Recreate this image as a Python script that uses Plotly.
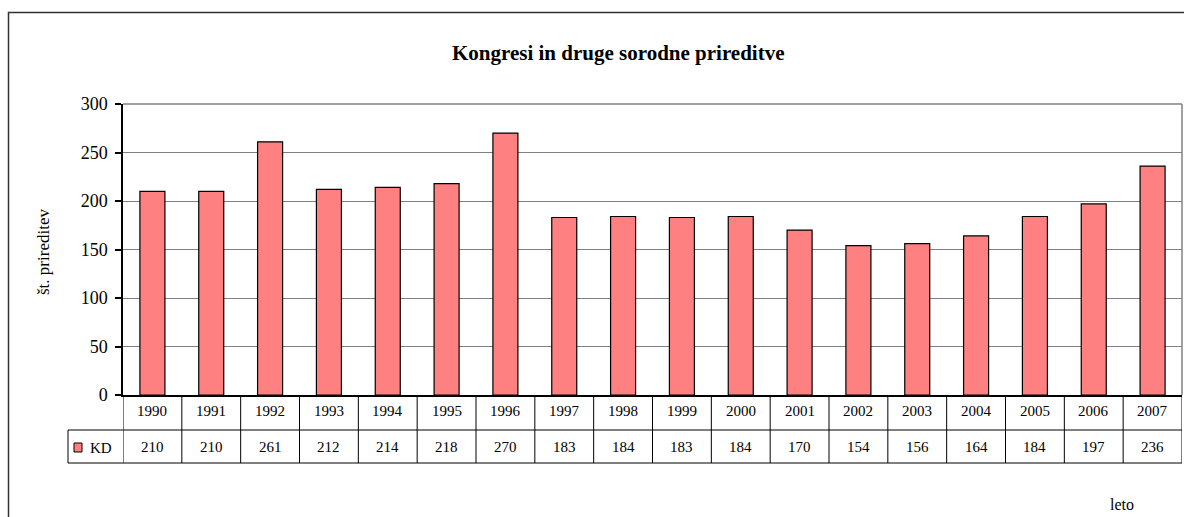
import plotly.graph_objects as go

years = ["1990", "1991", "1992", "1993", "1994", "1995", "1996", "1997", "1998",
         "1999", "2000", "2001", "2002", "2003", "2004", "2005", "2006", "2007"]
kd = [210, 210, 261, 212, 214, 218, 270, 183, 184, 183, 184, 170, 154, 156, 164, 184, 197, 236]
series_name = "KD"
title = "Kongresi in druge sorodne prireditve"
y_title = "št. prireditev"
x_title = "leto"

W, H = 1184, 517
PL, PR, PT, PB = 123, 1182, 104, 395  # plot area in window pixels
L, R, T, B = PL, W - PR, PT, H - PB
pw = PR - PL
ph = PB - PT

def px_x(p):
    return (p - PL) / pw

def px_y(p):
    return (PB - p) / ph

FONT = "Liberation Serif"
BAR = "#FF8080"

fig = go.Figure()
fig.add_trace(go.Bar(x=list(range(len(years))), y=kd, name=series_name,
                     marker=dict(color=BAR, line=dict(color="black", width=1.2)),
                     showlegend=False))

shapes = []
ann = []
n = len(years)
row1_bot = px_y(430)
row2_bot = px_y(463)
# outer border
shapes.append(dict(type="rect", xref="paper", yref="paper",
                   x0=px_x(8.5), x1=px_x(1200), y0=px_y(540), y1=px_y(12.5),
                   line=dict(color="#333333", width=1.5), layer="below"))
# plot border top/right (gray)
shapes.append(dict(type="line", xref="paper", yref="paper", x0=0, x1=1, y0=1, y1=1,
                   line=dict(color="#808080", width=1.5)))
shapes.append(dict(type="line", xref="paper", yref="paper", x0=1, x1=1, y0=0, y1=1,
                   line=dict(color="#808080", width=1.5)))
# table vertical lines
for i in range(n + 1):
    shapes.append(dict(type="line", xref="x", yref="paper", x0=i - 0.5, x1=i - 0.5,
                       y0=row2_bot, y1=0, line=dict(color="black", width=1)))
# legend cell
shapes.append(dict(type="line", xref="paper", yref="paper", x0=px_x(68), x1=px_x(68),
                   y0=row2_bot, y1=row1_bot, line=dict(color="black", width=1)))
shapes.append(dict(type="line", xref="paper", yref="paper", x0=px_x(68), x1=1,
                   y0=row1_bot, y1=row1_bot, line=dict(color="black", width=1)))
shapes.append(dict(type="line", xref="paper", yref="paper", x0=px_x(68), x1=1,
                   y0=row2_bot, y1=row2_bot, line=dict(color="black", width=1)))
# legend swatch
shapes.append(dict(type="rect", xref="paper", yref="paper", x0=px_x(74), x1=px_x(82),
                   y0=px_y(452), y1=px_y(443), fillcolor=BAR,
                   line=dict(color="black", width=1)))
ann.append(dict(xref="paper", yref="paper", x=px_x(88), y=px_y(447.5), text=series_name,
                showarrow=False, xanchor="left", yanchor="middle",
                font=dict(family=FONT, size=15, color="black")))

for i, (yr, v) in enumerate(zip(years, kd)):
    ann.append(dict(xref="x", yref="paper", x=i, y=px_y(411), text=yr, showarrow=False,
                    xanchor="center", yanchor="middle",
                    font=dict(family=FONT, size=15, color="black")))
    ann.append(dict(xref="x", yref="paper", x=i, y=px_y(447), text=str(v), showarrow=False,
                    xanchor="center", yanchor="middle",
                    font=dict(family=FONT, size=15, color="black")))

ann.append(dict(xref="paper", yref="paper", x=px_x(618), y=px_y(53), text="<b>" + title + "</b>",
                showarrow=False, xanchor="center", yanchor="middle",
                font=dict(family=FONT, size=21, color="black")))
ann.append(dict(xref="paper", yref="paper", x=px_x(43), y=px_y(252), text=y_title,
                showarrow=False, xanchor="center", yanchor="middle", textangle=-90,
                font=dict(family=FONT, size=17, color="black")))
ann.append(dict(xref="paper", yref="paper", x=px_x(1122), y=px_y(504), text=x_title,
                showarrow=False, xanchor="center", yanchor="middle",
                font=dict(family=FONT, size=16, color="black")))

fig.update_layout(
    width=W, height=H,
    margin=dict(l=L, r=R, t=T, b=B, pad=0),
    paper_bgcolor="white", plot_bgcolor="white",
    bargap=0.575,
    shapes=shapes, annotations=ann,
    font=dict(family=FONT, color="black"),
)
fig.update_xaxes(range=[-0.5, n - 0.5], showticklabels=False, showgrid=False,
                 zeroline=False, showline=True, linecolor="black", linewidth=1.5,
                 ticks="", fixedrange=True)
fig.update_yaxes(range=[0, 300], dtick=50, showgrid=True, gridcolor="#808080", gridwidth=1,
                 zeroline=False, showline=True, linecolor="black", linewidth=1.5,
                 ticks="outside", ticklen=6, tickcolor="black", tickwidth=1.5,
                 tickfont=dict(family=FONT, size=18, color="black"),
                 ticklabelstandoff=4, fixedrange=True)

fig.write_html("out.html", config={"displayModeBar": False},
               post_script="document.body.style.margin='0';document.body.style.overflow='hidden';")
